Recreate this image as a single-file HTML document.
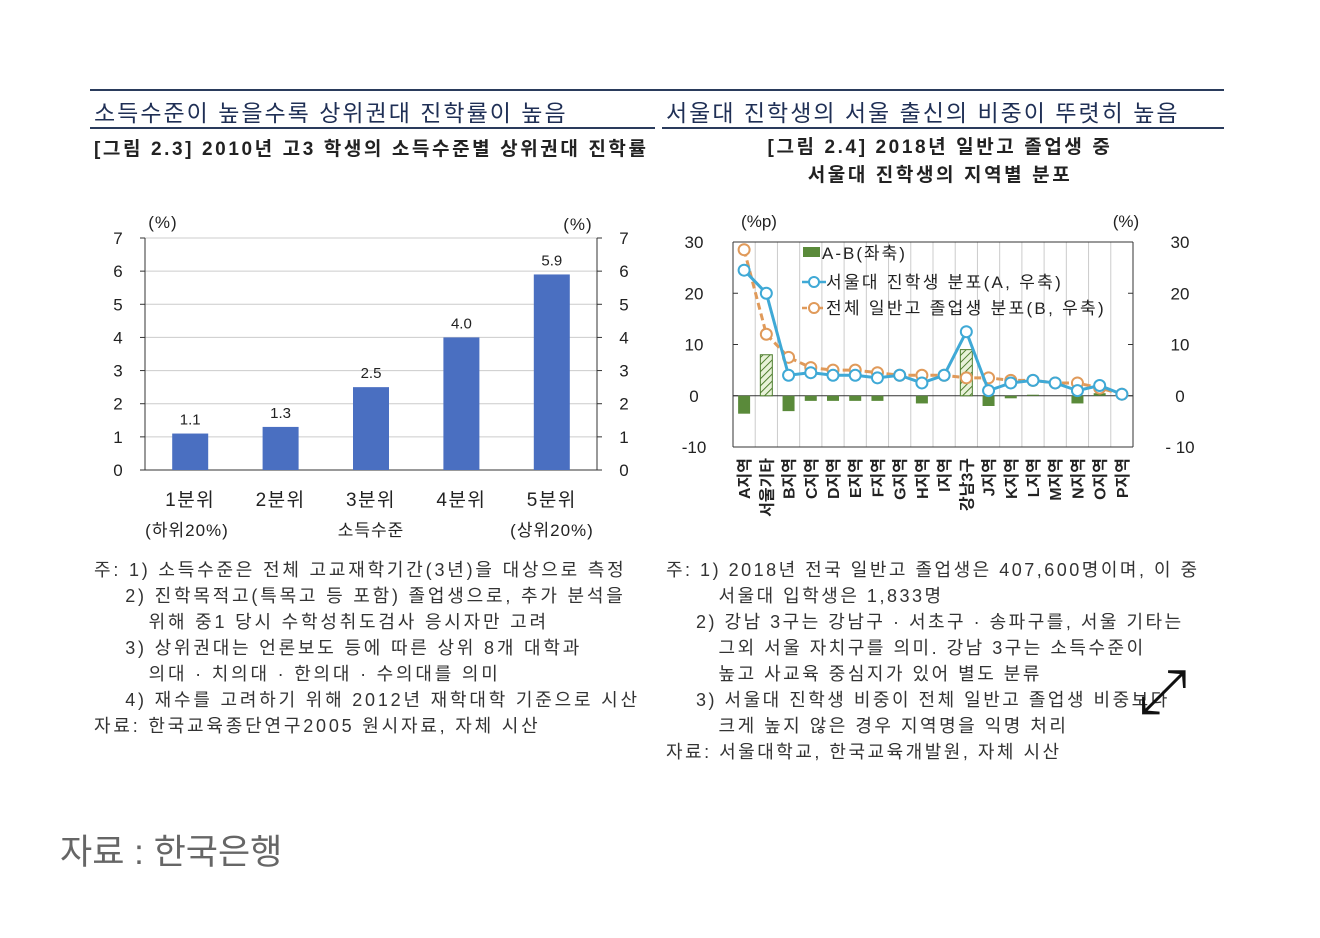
<!DOCTYPE html>
<html><head><meta charset="utf-8">
<style>
body{margin:0;background:#fff;}
#wrap{position:relative;width:1320px;height:938px;overflow:hidden;font-family:"Liberation Sans","Noto Sans CJK KR",sans-serif;color:#222;}
.t{position:absolute;white-space:nowrap;}
.note{font-size:18px;color:#333;line-height:26px;}
</style></head><body>
<div id="wrap">
<div style="position:absolute;left:90px;top:89px;width:1134px;height:2px;background:#2a3b5c"></div>
<div style="position:absolute;left:90px;top:127px;width:565px;height:2px;background:#2a3b5c"></div>
<div style="position:absolute;left:662px;top:127px;width:562px;height:2px;background:#2a3b5c"></div>
<div class="t" style="left:94px;top:94px;font-size:23px;letter-spacing:2px;color:#1f2f55">소득수준이 높을수록 상위권대 진학률이 높음</div>
<div class="t" style="left:666px;top:94px;font-size:23px;letter-spacing:2px;color:#1f2f55">서울대 진학생의 서울 출신의 비중이 뚜렷히 높음</div>
<div class="t" style="left:94px;top:134px;font-size:19px;letter-spacing:2.6px;font-weight:bold">[그림 2.3] 2010년 고3 학생의 소득수준별 상위권대 진학률</div>
<div class="t" style="left:660px;width:560px;top:134px;font-size:19px;letter-spacing:2.6px;font-weight:bold;text-align:center;line-height:28px">[그림 2.4] 2018년 일반고 졸업생 중<br>서울대 진학생의 지역별 분포</div>

<svg id="left" width="1320" height="938" style="position:absolute;left:0;top:0"></svg>
<svg id="right" width="1320" height="938" style="position:absolute;left:0;top:0"></svg>

<div class="t note" style="left:94px;top:557px;letter-spacing:2.8px">주: 1) 소득수준은 전체 고교재학기간(3년)을 대상으로 측정<br>&nbsp;&nbsp;&nbsp;&nbsp;2) 진학목적고(특목고 등 포함) 졸업생으로, 추가 분석을<br>&nbsp;&nbsp;&nbsp;&nbsp;&nbsp;&nbsp;&nbsp;위해 중1 당시 수학성취도검사 응시자만 고려<br>&nbsp;&nbsp;&nbsp;&nbsp;3) 상위권대는 언론보도 등에 따른 상위 8개 대학과<br>&nbsp;&nbsp;&nbsp;&nbsp;&nbsp;&nbsp;&nbsp;의대 · 치의대 · 한의대 · 수의대를 의미<br>&nbsp;&nbsp;&nbsp;&nbsp;4) 재수를 고려하기 위해 2012년 재학대학 기준으로 시산<br>자료: 한국교육종단연구2005 원시자료, 자체 시산</div>
<div class="t note" style="left:666px;top:557px;letter-spacing:2.5px">주: 1) 2018년 전국 일반고 졸업생은 407,600명이며, 이 중<br>&nbsp;&nbsp;&nbsp;&nbsp;&nbsp;&nbsp;&nbsp;서울대 입학생은 1,833명<br>&nbsp;&nbsp;&nbsp;&nbsp;2) 강남 3구는 강남구 · 서초구 · 송파구를, 서울 기타는<br>&nbsp;&nbsp;&nbsp;&nbsp;&nbsp;&nbsp;&nbsp;그외 서울 자치구를 의미. 강남 3구는 소득수준이<br>&nbsp;&nbsp;&nbsp;&nbsp;&nbsp;&nbsp;&nbsp;높고 사교육 중심지가 있어 별도 분류<br>&nbsp;&nbsp;&nbsp;&nbsp;3) 서울대 진학생 비중이 전체 일반고 졸업생 비중보다<br>&nbsp;&nbsp;&nbsp;&nbsp;&nbsp;&nbsp;&nbsp;크게 높지 않은 경우 지역명을 익명 처리<br>자료: 서울대학교, 한국교육개발원, 자체 시산</div>
<div class="t" style="left:1138px;top:658px;font-size:62px;line-height:68px;color:#111">⤢</div>
<div class="t" style="left:60px;top:824px;font-size:35px;color:#666">자료 : 한국은행</div>
</div>
<script>
const ns="http://www.w3.org/2000/svg";
function mk(svg,tag,attrs,txt){const e=document.createElementNS(ns,tag);for(const k in attrs)e.setAttribute(k,attrs[k]);if(txt!==undefined)e.textContent=txt;svg.appendChild(e);return e;}

// LEFT CHART DATA
const leftCats=["1분위","2분위","3분위","4분위","5분위"];
const leftVals=[1.1,1.3,2.5,4.0,5.9];
const leftTicks=[0,1,2,3,4,5,6,7];
const L=document.getElementById('left');
const lx0=145,lx1=597,ly0=470,ly7=238;
const ly=v=>ly0-(v/7)*(ly0-ly7);
const lbw=(lx1-lx0)/leftCats.length;
leftTicks.forEach(t=>{
  if(t>0){const g=mk(L,'line',{x1:lx0,x2:lx1,y1:ly(t),y2:ly(t),stroke:'#ccc','stroke-width':1});}
  const a=mk(L,'text',{x:118,y:ly(t)+6,'text-anchor':'middle','font-size':17,fill:'#222'},t);
  const b=mk(L,'text',{x:624,y:ly(t)+6,'text-anchor':'middle','font-size':17,fill:'#222'},t);
  [[lx0,lx0-5],[lx1,lx1+5]].forEach(p=>{const k=mk(L,'line',{x1:p[0],x2:p[1],y1:ly(t),y2:ly(t),stroke:'#333'});});
});
[lx0,lx1].forEach(x=>{const a=mk(L,'line',{x1:x,x2:x,y1:ly7,y2:ly0,stroke:'#333'});});
const lb=mk(L,'line',{x1:lx0,x2:lx1,y1:ly0,y2:ly0,stroke:'#333'});
leftVals.forEach((v,i)=>{
  const cx=lx0+lbw*(i+0.5);
  const r=mk(L,'rect',{x:cx-18,y:ly(v),width:36,height:ly0-ly(v),fill:'#4a6fc1'});
  
  const l=mk(L,'text',{x:cx,y:ly(v)-9,'text-anchor':'middle','font-size':15,fill:'#222'},v.toFixed(1));
  
  const c=mk(L,'text',{x:cx,y:506,'text-anchor':'middle','font-size':19,'letter-spacing':1.5,fill:'#222'},leftCats[i]);
  
});
[[187,536,'(하위20%)'],[371,536,'소득수준'],[552,536,'(상위20%)'],[163,228,'(%)'],[578,230,'(%)']].forEach(p=>{const e=mk(L,'text',{x:p[0],y:p[1],'text-anchor':'middle','font-size':17,'letter-spacing':1,fill:'#222'},p[2]);});

// RIGHT CHART DATA
const rCats=["A지역","서울기타","B지역","C지역","D지역","E지역","F지역","G지역","H지역","I지역","강남3구","J지역","K지역","L지역","M지역","N지역","O지역","P지역"];
const seriesA=[24.5,20,4,4.5,4,4,3.5,4,2.5,4,12.5,1,2.5,3,2.5,1,2,0.3];
const seriesB=[28.5,12,7.5,5.5,5,5,4.5,4,4,4,3.5,3.5,3,3,2.5,2.5,1.5,0.3];
const seriesDiff=[-3.5,8,-3,-1,-1,-1,-1,0,-1.5,0,9,-2,-0.5,0.2,0,-1.5,0.5,0];
const rTicks=[-10,0,10,20,30];
const R=document.getElementById('right');
const rx0=733,rx1=1133,ryTop=242,ryBot=447;
const ry=v=>ryBot-(v+10)/40*(ryBot-ryTop);
const rw=(rx1-rx0)/rCats.length;
for(let i=1;i<rCats.length;i++){const g=mk(R,'line',{x1:rx0+rw*i,x2:rx0+rw*i,y1:ryTop,y2:ryBot,stroke:'#ccc'});}
mk(R,'defs',{}).innerHTML='<pattern id="hatch" width="5" height="5" patternUnits="userSpaceOnUse" patternTransform="rotate(45)"><rect width="5" height="5" fill="#e8f2d8"/><line x1="0" y1="0" x2="0" y2="5" stroke="#4f7f2f" stroke-width="2"/></pattern>';
rTicks.forEach(t=>{
  const lab=t<0?'- '+Math.abs(t):String(t);
  const a=mk(R,'text',{x:694,y:ry(t)+6,'text-anchor':'middle','font-size':17,fill:'#222'},t<0?'-10':lab);
  const b=mk(R,'text',{x:1180,y:ry(t)+6,'text-anchor':'middle','font-size':17,fill:'#222'},lab);
  [[rx0,rx0+5],[rx1,rx1-5]].forEach(p=>{const k=mk(R,'line',{x1:p[0],x2:p[1],y1:ry(t),y2:ry(t),stroke:'#333'});});
});
[rx0,rx1].forEach(x=>{const a=mk(R,'line',{x1:x,x2:x,y1:ryTop,y2:ryBot,stroke:'#333'});});
[ryTop,ryBot,ry(0)].forEach(y=>{const a=mk(R,'line',{x1:rx0,x2:rx1,y1:y,y2:y,stroke:'#333'});});
seriesDiff.forEach((v,i)=>{
  const cx=rx0+rw*(i+0.5);const y0=ry(0),y1=ry(v);
  const r=mk(R,'rect',{x:cx-6,y:Math.min(y0,y1),width:12,height:Math.abs(y1-y0),fill:v>5?'url(#hatch)':'#5a8a3a',stroke:v>5?'#4f7f2f':'none'});
  
});
function line(vals,color,dash,name){
  const pts=vals.map((v,i)=>(rx0+rw*(i+0.5))+','+ry(v)).join(' ');
  const pl=mk(R,'polyline',{points:pts,fill:'none',stroke:color,'stroke-width':3,'stroke-dasharray':dash});
  
  vals.forEach((v,i)=>{const c=mk(R,'circle',{cx:rx0+rw*(i+0.5),cy:ry(v),r:5.5,fill:'#fff',stroke:color,'stroke-width':2});});
}
line(seriesB,'#e09a5a','7 4','series-b');
line(seriesA,'#3fa9d6','none','series-a');
rCats.forEach((c,i)=>{
  const cx=rx0+rw*(i+0.5);
  const t=mk(R,'text',{x:cx+6,y:458,'text-anchor':'end','font-size':16,'font-weight':'bold',fill:'#222',transform:`rotate(-90 ${cx+6} 458)`},c);
  
});
[[759,227,'(%p)'],[1126,227,'(%)']].forEach(p=>{const e=mk(R,'text',{x:p[0],y:p[1],'text-anchor':'middle','font-size':17,fill:'#222'},p[2]);});
// legend
const lg1=mk(R,'rect',{x:803,y:247,width:17,height:10,fill:'#5a8a3a'});
const lt1=mk(R,'text',{x:822,y:259,'font-size':17,'letter-spacing':2,fill:'#222'},'A-B(좌축)');
[[282,'#3fa9d6','서울대 진학생 분포(A, 우축)','none','legend-entry-a'],[308,'#e09a5a','전체 일반고 졸업생 분포(B, 우축)','5 3','legend-entry-b']].forEach(p=>{
  const l=mk(R,'line',{x1:802,x2:826,y1:p[0],y2:p[0],stroke:p[1],'stroke-width':2.5,'stroke-dasharray':p[3]});
  const c=mk(R,'circle',{cx:814,cy:p[0],r:5,fill:'#fff',stroke:p[1],'stroke-width':2});
  const t=mk(R,'text',{x:826,y:p[0]+6,'font-size':17,'letter-spacing':2.3,fill:'#222'},p[2]);
});
</script>
</body></html>
